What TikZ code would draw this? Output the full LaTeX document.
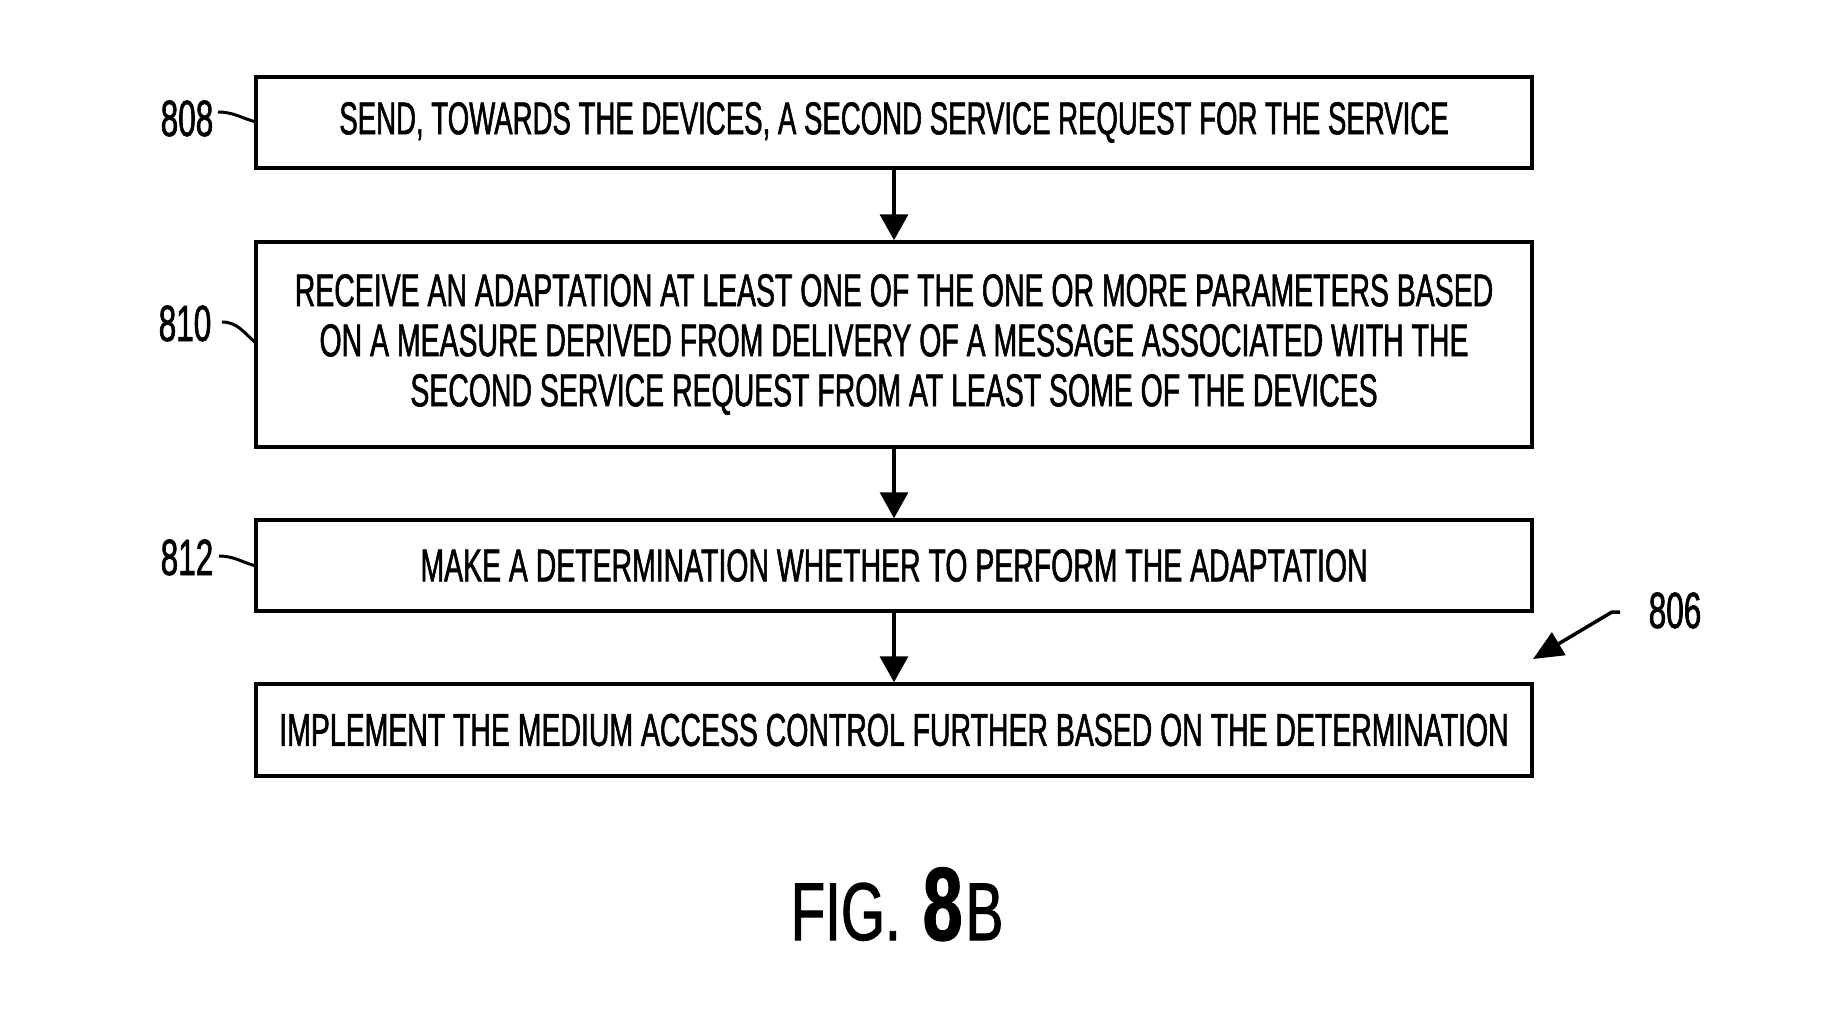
\documentclass[tikz,border=0pt]{standalone}
\usepackage{fontspec}
\setmainfont{Liberation Sans}[FakeStretch=0.618,FakeBold=1.2]
\newfontfamily\firstfont{Liberation Sans}[FakeStretch=0.6,FakeBold=1.2]
\newfontfamily\figfont{Liberation Sans}[FakeStretch=0.69,FakeBold=1.2]
\usetikzlibrary{arrows.meta}
\begin{document}
\begin{tikzpicture}[x=1pt,y=1pt,
  stepbox/.style={draw,line width=3.5pt,minimum width=1276pt,inner sep=0pt,align=center,
    font=\fontsize{46}{50}\selectfont},
  flow/.style={line width=3.5pt,-{Triangle[width=28pt,length=26pt]}},
  reflabel/.style={anchor=base,font=\fontsize{51}{51}\selectfont},
  tick/.style={line width=3pt}]
\useasboundingbox (0,0) rectangle (1835,-1018);
\node[stepbox,minimum height=91pt] (b1) at (894,-122.5) {\firstfont SEND, TOWARDS THE DEVICES, A SECOND SERVICE REQUEST FOR THE SERVICE};
\node[stepbox,minimum height=205pt] (b2) at (894,-344.5) {RECEIVE AN ADAPTATION AT LEAST ONE OF THE ONE OR MORE PARAMETERS BASED\\ON A MEASURE DERIVED FROM DELIVERY OF A MESSAGE ASSOCIATED WITH THE\\SECOND SERVICE REQUEST FROM AT LEAST SOME OF THE DEVICES};
\node[stepbox,minimum height=91pt] (b3) at (894,-565.5) {MAKE A DETERMINATION WHETHER TO PERFORM THE ADAPTATION};
\node[stepbox,minimum height=92pt] (b4) at (894,-730) {IMPLEMENT THE MEDIUM ACCESS CONTROL FURTHER BASED ON THE DETERMINATION};
\draw[flow] (b1.south) -- (b2.north);
\draw[flow] (b2.south) -- (b3.north);
\draw[flow] (b3.south) -- (b4.north);
% reference labels
\node[reflabel] (l808) at (187,-136) {808};
\node[reflabel] (l810) at (185,-341) {810};
\node[reflabel] (l812) at (187,-575) {812};
\node[reflabel] (l806) at (1675,-628) {806};
\coordinate (t808) at (218,-112);
\coordinate (t810) at (222,-322);
\coordinate (t812) at (219,-556);
\draw[tick] (t808) to[out=0,in=165] (256,-122);
\draw[tick] (t810) to[out=0,in=140] (256,-343);
\draw[tick] (t812) to[out=0,in=165] (256,-566);
\coordinate (a806s) at (1620,-612);
\coordinate (a806e) at (1533,-659);
\draw[line width=3.5pt,-{Triangle[width=26pt,length=30pt]}] (a806s) -- (1612,-612) -- (a806e);
% figure caption
\node[anchor=base,font=\figfont\fontsize{82}{82}\selectfont] (fig) at (897,-940) {FIG.\hspace{22pt}{\bfseries\fontsize{104}{104}\selectfont 8}\hspace{3pt}B};
\end{tikzpicture}
\end{document}
